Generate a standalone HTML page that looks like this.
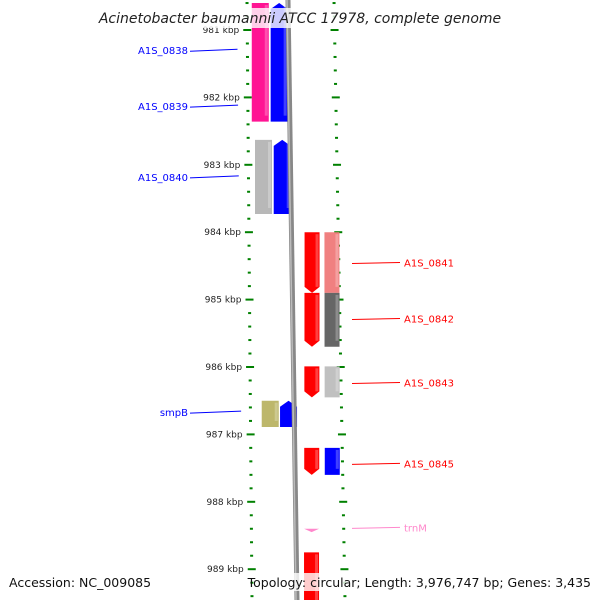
<!DOCTYPE html>
<html><head><meta charset="utf-8"><style>
html,body{margin:0;padding:0;background:#fff;}
svg{display:block;font-family:"DejaVu Sans","Liberation Sans",sans-serif;}
</style></head><body>
<svg id="map" width="600" height="600" viewBox="0 0 600 600">
<rect width="600" height="600" fill="#fff"/>
<g id="ticks"></g>
<g id="feats"></g>
<line x1="288" y1="0" x2="297" y2="600" stroke="#888" stroke-width="5"/>
<line x1="287" y1="0" x2="296" y2="600" stroke="#bbb" stroke-width="1.5"/>
<g id="labels"></g>
<rect x="100" y="8" width="400" height="20" fill="#fff" opacity="0.8"/>
<text x="300" y="23" text-anchor="middle" font-size="14" font-style="italic" fill="#222">Acinetobacter baumannii ATCC 17978, complete genome</text>
<rect x="4" y="573" width="150" height="18" fill="#fff" opacity="0.8"/>
<text x="9" y="587" font-size="12.5" fill="#111">Accession: NC_009085</text>
<rect x="258" y="573" width="340" height="18" fill="#fff" opacity="0.8"/>
<text x="591" y="587" text-anchor="end" font-size="12.5" fill="#111">Topology: circular; Length: 3,976,747 bp; Genes: 3,435</text>
</svg>
<script>
const kbpLabels=[981,982,983,984,985,986,987,988,989];
const featStart=[980.6,980.6,982.63,982.63,986.5,986.5,984.0,984.0,984.9,984.9,985.99,985.99,987.2,987.2,988.4,988.75];
const featEnd=[982.36,982.36,983.73,983.73,986.89,986.89,984.9,984.9,985.7,985.7,986.45,986.45,987.6,987.6,988.45,989.6];
const featColor=["#ff1493","#0000ff","#b8b8b8","#0000ff","#bdb76b","#0000ff","#ff0000","#f08080","#ff0000","#666666","#ff0000","#c0c0c0","#ff0000","#0000ff","#ff88cc","#ff0000"];
const featTrack=[0,1,0,1,0,1,2,3,2,3,2,3,2,3,2,2];
const featArrow=["none","up","none","up","none","up","down","none","down","none","down","none","down","none","tri","none"];
const labelNames=["A1S_0838","A1S_0839","A1S_0840","smpB","A1S_0841","A1S_0842","A1S_0843","A1S_0845","trnM"];
const labelPos=[981.3,982.13,983.18,986.67,984.45,985.28,986.23,987.43,988.38];
const labelSide=["L","L","L","L","R","R","R","R","R"];
const labelColor=["#0000ff","#0000ff","#0000ff","#0000ff","#ff0000","#ff0000","#ff0000","#ff0000","#ff88cc"];
const NS="http://www.w3.org/2000/svg";
function yOf(k){return 30+(k-981)*67.4;}
const trackX=[[250,267],[269,285],[305,304],[324,325]];
const trackW=[17,17,15,15];
function tx(t,y){return trackX[t][0]+(trackX[t][1]-trackX[t][0])*y/600;}
function mk(tag,attrs,parent){const e=document.createElementNS(NS,tag);for(const k in attrs)e.setAttribute(k,attrs[k]);parent.appendChild(e);return e;}
const tg=document.getElementById('ticks');
for(let k=980.6;k<=989.6;k+=0.2){
  const kk=Math.round(k*10)/10;const y=yOf(kk);const major=Math.abs(kk-Math.round(kk))<0.01;
  const lx=247+5*y/600, rx=334+11*y/600;
  const a=mk('rect',{x:major?lx-4:lx-1.5,y:y-1,width:major?8:3,height:2,fill:'#008000'},tg);
  
  
  const b=mk('rect',{x:major?rx-4:rx-1.5,y:y-1,width:major?8:3,height:2,fill:'#008000'},tg);
  
  
}
kbpLabels.forEach(k=>{
  const y=yOf(k);const t=mk('text',{x:239+5*y/600,y:y+3,'text-anchor':'end','font-size':'9',fill:'#222'},tg);
  t.textContent=k+' kbp';
  
  
});
const fg=document.getElementById('feats');
featStart.forEach((s,i)=>{
  const y1=yOf(s),y2=yOf(featEnd[i]);const x=tx(featTrack[i],(y1+y2)/2);const w=trackW[featTrack[i]];
  let d;const ar=featArrow[i];
  if(ar==='up')d=`M${x},${y2} L${x},${y1+6} L${x+w/2},${y1} L${x+w},${y1+6} L${x+w},${y2}Z`;
  else if(ar==='down')d=`M${x},${y1} L${x+w},${y1} L${x+w},${y2-6} L${x+w/2},${y2} L${x},${y2-6}Z`;
  else if(ar==='tri')d=`M${x},${y1} L${x+w},${y1} L${x+w/2},${y2}Z`;
  else d=`M${x},${y1} L${x+w},${y1} L${x+w},${y2} L${x},${y2}Z`;
  const p=mk('path',{d:d,fill:featColor[i]},fg);
  
  
  const h=mk('rect',{x:x+w-4,y:y1+2,width:3,height:Math.max(0,y2-y1-8),fill:'#fff',opacity:0.25},fg);
  
  
});
const lg=document.getElementById('labels');
labelNames.forEach((n,i)=>{
  const y=yOf(labelPos[i]);const c=labelColor[i];
  if(labelSide[i]==='L'){
    const l=mk('line',{x1:190,y1:y+1,x2:237+6*y/600,y2:y-1,stroke:c,'stroke-width':1},lg);
    
    
    const t=mk('text',{x:188,y:y+4,'text-anchor':'end','font-size':'10',fill:c},lg);t.textContent=n;
    
    
  }else{
    const l=mk('line',{x1:352,y1:y+1,x2:400,y2:y,stroke:c,'stroke-width':1},lg);
    
    
    const t=mk('text',{x:404,y:y+4,'font-size':'10',fill:c},lg);t.textContent=n;
    
    
  }
});
</script>
</body></html>
